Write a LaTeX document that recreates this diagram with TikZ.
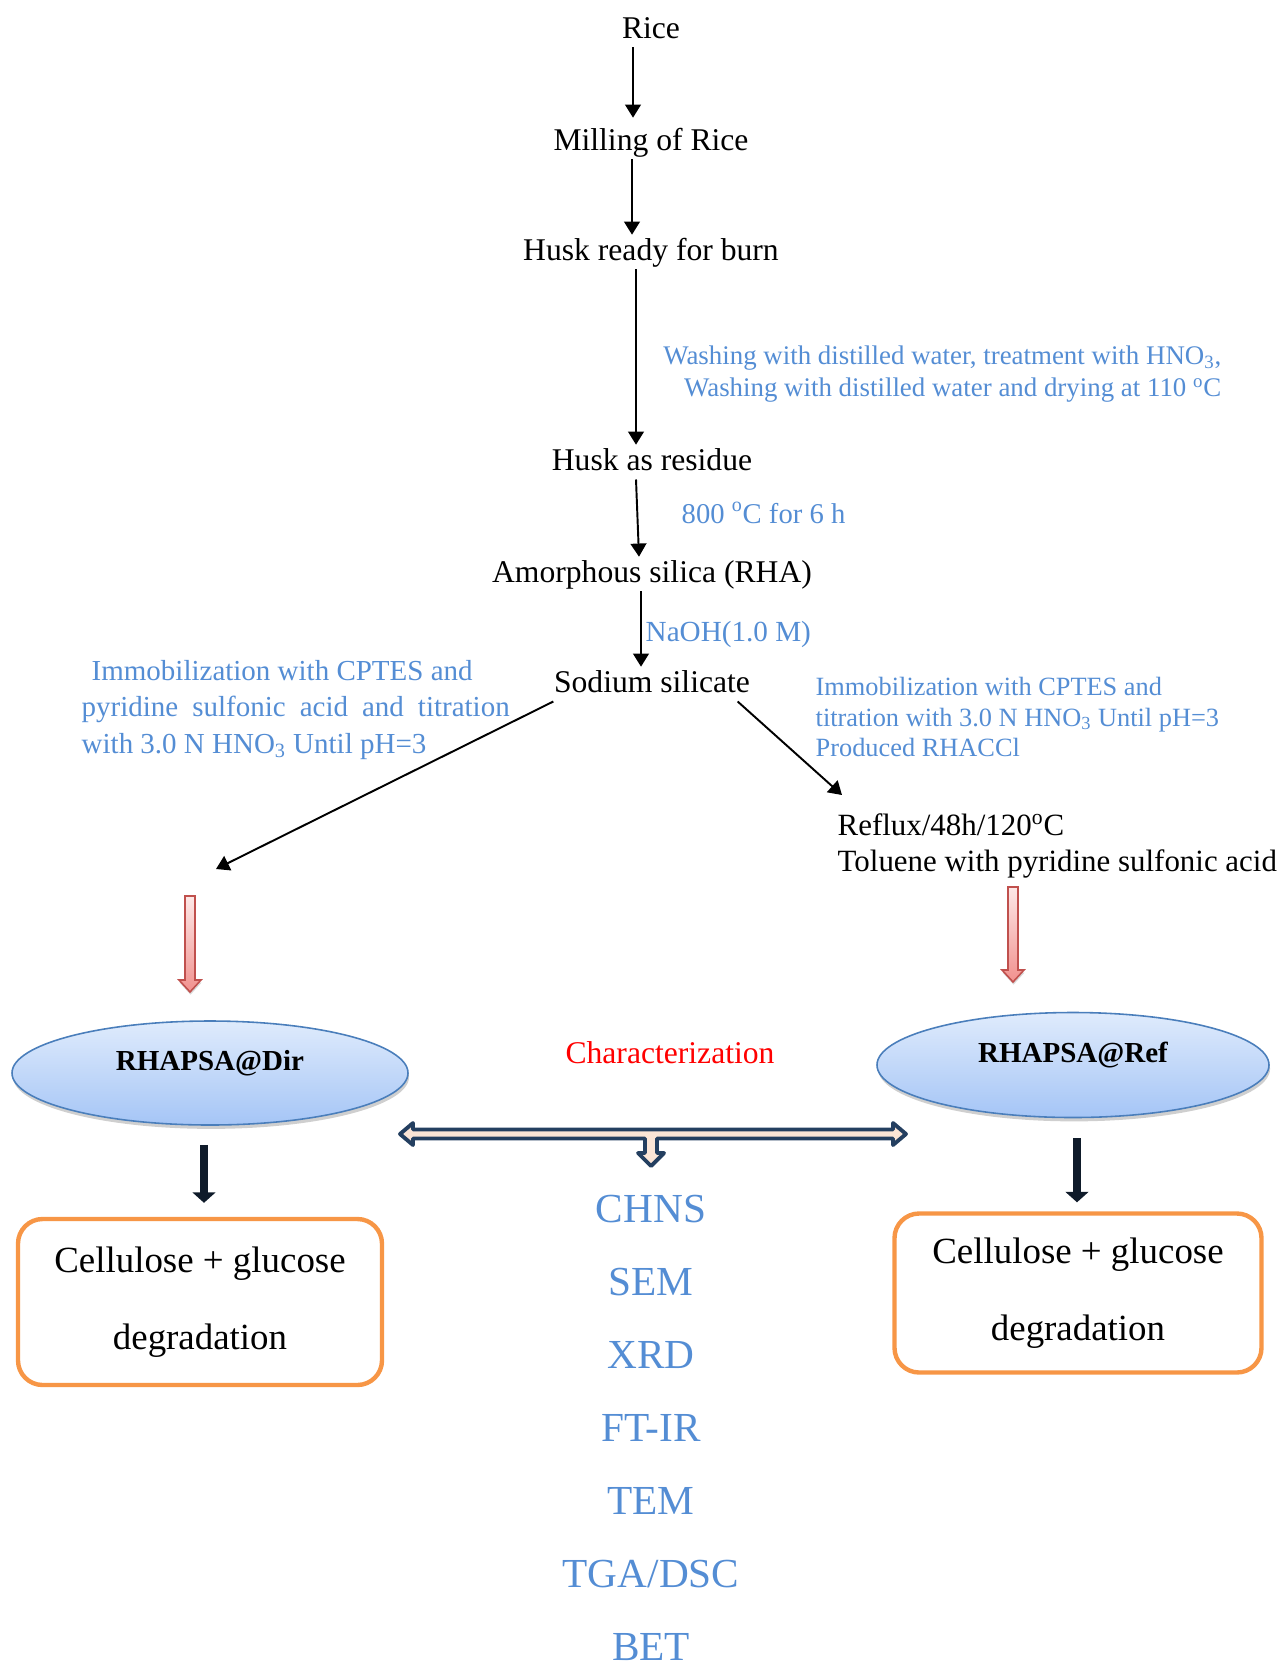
\documentclass[tikz,border=0pt]{standalone}
\usepackage{fontspec}
\setmainfont{Liberation Serif}
\usetikzlibrary{arrows.meta,shapes.geometric,shadows}
\newlength{\px}\setlength{\px}{0.02cm}
\definecolor{noteblue}{RGB}{84,141,212}
\definecolor{navy}{RGB}{36,63,96}
\definecolor{peach}{RGB}{251,229,214}
\definecolor{boxorange}{RGB}{247,150,70}
\definecolor{ellborder}{RGB}{74,126,187}
\definecolor{elltop}{RGB}{223,235,252}
\definecolor{ellbottom}{RGB}{165,197,246}
\definecolor{redline}{RGB}{192,80,77}
\definecolor{redtop}{RGB}{253,232,231}
\definecolor{redbottom}{RGB}{241,145,142}
\definecolor{darkarrow}{RGB}{15,27,42}
\begin{document}
\begin{tikzpicture}[x=0.02cm, y=-0.02cm, thick,
    main node/.style={font=\fontsize{18}{21.6}\selectfont, inner sep=0pt, text height=14pt, text depth=5pt, anchor=base},
    blue note/.style={font=\fontsize{15}{18}\selectfont, text=noteblue, inner sep=0pt},
    arr/.style={-{Triangle[length=7.5pt,width=9pt]}, line width=1.1pt},
    big arr/.style={-{Triangle[length=6pt,width=13pt]}, line width=4.5pt, darkarrow},
    product/.style={ellipse, draw=ellborder, line width=0.9pt, top color=elltop, bottom color=ellbottom,
        drop shadow={shadow xshift=0.6pt, shadow yshift=-2.2pt, fill=gray!75},
        font=\fontsize{16.5}{19}\selectfont\bfseries, inner sep=0pt, text height=12pt, text depth=14.5pt},
    result box/.style={draw=boxorange, line width=2.5pt, rounded corners=14pt, fill=white,
        font=\fontsize{21}{43.7}\selectfont, align=center, inner sep=0pt},
    hollow red/.style={draw=redline, line width=0.9pt, top color=redtop, bottom color=redbottom,
        drop shadow={shadow xshift=0.3pt, shadow yshift=-1.5pt, fill=gray!60}},
    tech node/.style={font=\fontsize{23.5}{28}\selectfont, text=noteblue, inner sep=0pt, text height=15.6pt, text depth=0pt}]

                \useasboundingbox (0,0) rectangle (1283,1667);

                % main route
                \node[main node] at (651, 38) (rice) {Rice};
                \node[main node] at (651, 150) (mill) {Milling of Rice};
                \node[main node] at (651, 260) (burn) {Husk ready for burn};
                \node[main node] at (652, 470) (residue) {Husk as residue};
                \node[main node] at (652, 582) (silica) {Amorphous silica (RHA)};
                \node[main node] at (652, 692) (sodium) {Sodium silicate};

                \node[blue note, anchor=east, align=right, font=\fontsize{15.3}{18}\selectfont] at (1222, 374) (washnote) {Washing with distilled water, treatment with HNO\textsubscript{3},\\Washing with distilled water and drying at 110 \textsuperscript{o}C};
                \node[blue note, anchor=base west, font=\fontsize{16.3}{19}\selectfont] at (681, 523) (burnnote) {800 \textsuperscript{o}C for 6 h};
                \node[blue note, anchor=base west, font=\fontsize{16.6}{19}\selectfont] at (645, 641) (naohnote) {NaOH(1.0 M)};

                \node[blue note, anchor=west, align=left, font=\fontsize{16.5}{20.7}\selectfont] at (81, 710) (dirnote) {\hspace*{10\px}Immobilization with CPTES and\\\makebox[428\px][s]{pyridine sulfonic acid and titration}\\with 3.0 N HNO\textsubscript{3} Until pH=3};
                \node[blue note, anchor=west, align=left, font=\fontsize{15}{17.3}\selectfont] at (815, 717) (refnote) {Immobilization with CPTES and\\titration with 3.0 N HNO\textsubscript{3} Until pH=3\\Produced RHACCl};
                \node[anchor=west, align=left, inner sep=0pt, font=\fontsize{17.6}{20.4}\selectfont] at (837, 846) (reflux) {Reflux/48h/120\textsuperscript{o}C\\Toluene with pyridine sulfonic acid};

                \coordinate (dirend) at (216, 869);
                \coordinate (refend) at (842, 795);

            \draw[arr, shorten >=7\px] ([xshift=-18\px]rice.south) -- ([xshift=-18\px]mill.north);
            \draw[arr] ([xshift=-19\px]mill.south) -- ([xshift=-19\px]burn.north);
            \draw[arr] ([xshift=-15\px]burn.south) -- ([xshift=-16\px]residue.north);
            \draw[arr] ([xshift=-16\px]residue.south) -- ([xshift=-13\px]silica.north);
            \draw[arr] ([xshift=-11\px]silica.south) -- ([xshift=-11\px]sodium.north);
            \draw[arr] (sodium.south west) -- (dirend);
            \draw[arr] ([xshift=-13\px]sodium.south east) -- (refend);

            % hollow red arrows
            \foreach \x/\ya/\yb in {190/896/992, 1013/887/982}
                \filldraw[hollow red] (\x-5,\ya) -- (\x+5,\ya) -- (\x+5,\yb-12) -- (\x+11,\yb-12) -- (\x,\yb) -- (\x-11,\yb-12) -- (\x-5,\yb-12) -- cycle;

                % products
                \node[product, minimum width=396\px, minimum height=104\px] at (210, 1073) (dir) {RHAPSA@Dir};
                \node[product, minimum width=392\px, minimum height=105\px] at (1073, 1065) (ref) {RHAPSA@Ref};
                \node[font=\fontsize{18}{21.6}\selectfont, text=red] at (670, 1053) (charac) {Characterization};

            % characterization arrow
            \filldraw[draw=navy, fill=peach, line width=2.2pt, line join=round]
                (400,1134) -- (413,1123) -- (413,1129.5) -- (893,1129.5) -- (893,1123) -- (906,1134)
                -- (893,1145) -- (893,1138.5) -- (657,1138.5) -- (657,1153) -- (664,1153) -- (651,1166)
                -- (638,1153) -- (645,1153) -- (645,1138.5) -- (413,1138.5) -- (413,1145) -- cycle;

                \node[result box, minimum width=364\px, minimum height=166\px] at (200, 1302) (dirbox) {Cellulose + glucose\\degradation};
                \node[result box, minimum width=367\px, minimum height=159\px] at (1078, 1293) (refbox) {Cellulose + glucose\\degradation};

            \draw[big arr, shorten <=19\px, shorten >=14\px] ([xshift=-6\px]dir.south) -- ([xshift=4\px]dirbox.north);
            \draw[big arr, shorten <=20\px, shorten >=9\px] ([xshift=4\px]ref.south) -- ([xshift=-1\px]refbox.north);

            % techniques
            \foreach \t [count=\i] in {CHNS, SEM, XRD, FT-IR, TEM, TGA/DSC, BET}
                \node[tech node] at (651, {1209+73*(\i-1)}) (tech\i) {\t};

            \end{tikzpicture}
\end{document}
